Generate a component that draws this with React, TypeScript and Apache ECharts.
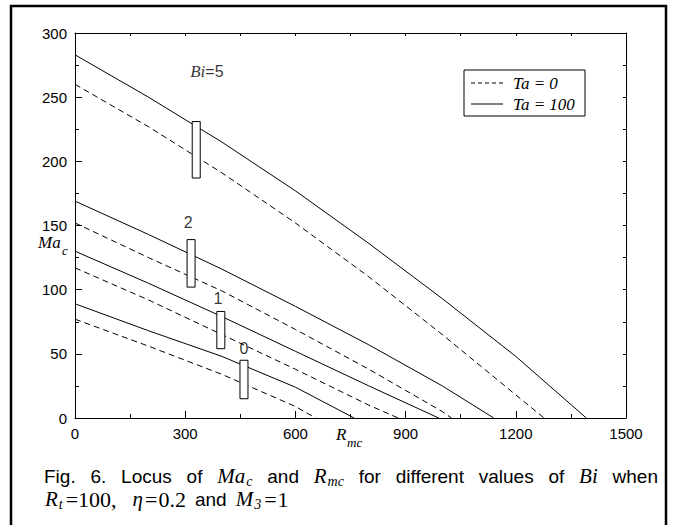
import React, { useEffect, useRef } from "react";
import * as echarts from "echarts";

// ---- data ----
const bi5Solid = [[0, 283], [200, 250], [400, 215], [600, 177], [800, 136], [1000, 93], [1200, 48], [1392, 0]];
const bi5Dashed = [[0, 260], [200, 227], [400, 191], [600, 152], [800, 110], [1000, 65], [1200, 18], [1277, 0]];
const bi2Solid = [[0, 169], [200, 143], [400, 116], [600, 87], [800, 57], [1000, 25], [1140, 0]];
const bi2Dashed = [[0, 152], [200, 125], [400, 99], [600, 69], [800, 38], [1000, 5], [1025, 0]];
const bi1Solid = [[0, 130], [200, 105], [400, 79], [600, 52], [800, 25], [990, 0]];
const bi1Dashed = [[0, 117], [200, 92], [400, 65], [600, 38], [800, 10], [880, 0]];
const bi0Solid = [[0, 89], [200, 68], [400, 48], [600, 24], [760, 0]];
const bi0Dashed = [[0, 77], [200, 56], [400, 34], [600, 9], [655, 0]];

// markers (vertical boxes) straddling each pair
const boxR = [330, 316, 397, 460];
const boxLow = [187, 102, 54, 15];
const boxHigh = [231, 139, 83, 45];

// curve labels
const labelNames = ["Bi=5", "2", "1", "0"];
const labelR = [359, 308, 389, 460];
const labelY = [270, 152, 93.5, 54];

const xMin = 0, xMax = 1500, xStep = 300;
const yMin = 0, yMax = 300, yStep = 50;

const SANS = '"Liberation Sans", Arial, sans-serif';
const SERIF = '"Liberation Serif", "Times New Roman", serif';

type Part = { t: string; kind: "sans" | "math" | "sub" | "rm" };

const line1: Part[][] = [
  [{ t: "Fig.", kind: "sans" }],
  [{ t: "6.", kind: "sans" }],
  [{ t: "Locus", kind: "sans" }],
  [{ t: "of", kind: "sans" }],
  [{ t: "Ma", kind: "math" }, { t: "c", kind: "sub" }],
  [{ t: "and", kind: "sans" }],
  [{ t: "R", kind: "math" }, { t: "mc", kind: "sub" }],
  [{ t: "for", kind: "sans" }],
  [{ t: "different", kind: "sans" }],
  [{ t: "values", kind: "sans" }],
  [{ t: "of", kind: "sans" }],
  [{ t: "Bi", kind: "math" }],
  [{ t: "when", kind: "sans" }],
];

// line 2: parts with the gap placed before each part
const line2: [Part, number][] = [
  [{ t: "R", kind: "math" }, 0],
  [{ t: "t", kind: "sub" }, 0],
  [{ t: "=100,", kind: "rm" }, 3],
  [{ t: "η", kind: "math" }, 16],
  [{ t: "=", kind: "rm" }, 2],
  [{ t: "0.2", kind: "rm" }, 1],
  [{ t: "and", kind: "sans" }, 9],
  [{ t: "M", kind: "math" }, 9],
  [{ t: "3", kind: "sub" }, 0],
  [{ t: "=", kind: "rm" }, 3],
  [{ t: "1", kind: "rm" }, 1],
];

function fontOf(kind: Part["kind"]) {
  if (kind === "sans") return { fontFamily: SANS, fontSize: 19, fontStyle: "normal" };
  if (kind === "math") return { fontFamily: SERIF, fontSize: 21, fontStyle: "italic" };
  if (kind === "sub") return { fontFamily: SERIF, fontSize: 14, fontStyle: "italic" };
  return { fontFamily: SERIF, fontSize: 22, fontStyle: "normal" };
}

let ctx: CanvasRenderingContext2D | null = null;
function measure(p: Part) {
  if (!ctx) ctx = document.createElement("canvas").getContext("2d");
  const f = fontOf(p.kind);
  ctx!.font = `${f.fontStyle} ${f.fontSize}px ${f.fontFamily}`;
  return ctx!.measureText(p.t).width;
}

function partEl(p: Part, x: number, y: number) {
  const f = fontOf(p.kind);
  return {
    type: "text",
    x,
    y: p.kind === "sub" ? y + 5 : y,
    style: { text: p.t, fill: "#000", align: "left", verticalAlign: "middle", ...f },
  };
}

function buildCaption() {
  const els: any[] = [];
  const X0 = 44, X1 = 658, Y1 = 476;
  const widths = line1.map((w) => w.reduce((s, p) => s + measure(p) + (p.kind === "sub" ? 1 : 0), 0));
  const total = widths.reduce((a, b) => a + b, 0);
  const gap = (X1 - X0 - total) / (line1.length - 1);
  let x = X0;
  line1.forEach((word, i) => {
    let xx = x;
    word.forEach((p) => {
      if (p.kind === "sub") xx += 1;
      els.push(partEl(p, xx, Y1));
      xx += measure(p);
    });
    x += widths[i] + gap;
  });
  const Y2 = 499;
  let x2 = 45;
  line2.forEach(([p, g]) => {
    x2 += g + (p.kind === "sub" ? 1 : 0);
    els.push(partEl(p, x2, Y2));
    x2 += measure(p);
  });
  return els;
}

function lineSeries(data: number[][], dashed: boolean) {
  return {
    type: "line",
    data,
    showSymbol: false,
    symbol: "none",
    smooth: false,
    z: 2,
    silent: true,
    lineStyle: { color: "#000", width: 1, type: dashed ? [6, 4] : "solid" },
  };
}

export default function App() {
  const ref = useRef<HTMLDivElement>(null);
  useEffect(() => {
    if (!ref.current) return;
    const chart = echarts.init(ref.current, null, { renderer: "svg" });
    const axisLabel = { color: "#000", fontFamily: SANS, fontSize: 15, formatter: (v: number) => String(v) };
    const option: any = {
      animation: false,
      backgroundColor: "#fff",
      grid: { left: 75, top: 33, right: 47, bottom: 107, containLabel: false },
      xAxis: [
        {
          type: "value", min: xMin, max: xMax, interval: xStep, position: "bottom",
          axisLine: { show: true, onZero: false, lineStyle: { color: "#000", width: 1 } },
          axisTick: { show: true, inside: true, length: 7, lineStyle: { color: "#000" } },
          minorTick: { show: true, splitNumber: 2, length: 4, lineStyle: { color: "#000" } },
          splitLine: { show: false },
          axisLabel: { ...axisLabel, margin: 8 },
        },
        {
          type: "value", min: xMin, max: xMax, interval: 150, position: "top",
          axisLine: { show: true, onZero: false, lineStyle: { color: "#000", width: 1 } },
          axisTick: { show: true, inside: true, length: 3, lineStyle: { color: "#000" } },
          splitLine: { show: false },
          axisLabel: { show: false },
        },
      ],
      yAxis: [
        {
          type: "value", min: yMin, max: yMax, interval: yStep, position: "left",
          axisLine: { show: true, onZero: false, lineStyle: { color: "#000", width: 1 } },
          axisTick: { show: true, inside: true, length: 7, lineStyle: { color: "#000" } },
          minorTick: { show: true, splitNumber: 2, length: 4, lineStyle: { color: "#000" } },
          splitLine: { show: false },
          axisLabel: { ...axisLabel, margin: 8 },
        },
        {
          type: "value", min: yMin, max: yMax, interval: 25, position: "right",
          axisLine: { show: true, onZero: false, lineStyle: { color: "#000", width: 1 } },
          axisTick: { show: true, inside: true, length: 3, lineStyle: { color: "#000" } },
          splitLine: { show: false },
          axisLabel: { show: false },
        },
      ],
      series: [
        lineSeries(bi5Solid, false),
        lineSeries(bi5Dashed, true),
        lineSeries(bi2Solid, false),
        lineSeries(bi2Dashed, true),
        lineSeries(bi1Solid, false),
        lineSeries(bi1Dashed, true),
        lineSeries(bi0Solid, false),
        lineSeries(bi0Dashed, true),
        {
          type: "custom",
          z: 5,
          silent: true,
          data: boxR.map((r, i) => [r, boxLow[i], boxHigh[i]]),
          renderItem: (_p: any, api: any) => {
            const top = api.coord([api.value(0), api.value(2)]);
            const bot = api.coord([api.value(0), api.value(1)]);
            return {
              type: "rect",
              shape: { x: top[0] - 4, y: top[1], width: 8, height: bot[1] - top[1] },
              style: { fill: "#fff", stroke: "#000", lineWidth: 1 },
            };
          },
        },
        {
          type: "scatter",
          z: 6,
          silent: true,
          symbolSize: 1,
          itemStyle: { color: "rgba(0,0,0,0)" },
          data: labelNames.map((n, i) => ({ name: n, value: [labelR[i], labelY[i]] })),
          label: {
            show: true,
            position: "inside",
            formatter: (p: any) => (p.name === "Bi=5" ? "{i|Bi}{n|=5}" : "{n|" + p.name + "}"),
            rich: {
              i: { fontFamily: SERIF, fontStyle: "italic", fontSize: 17, color: "#000" },
              n: { fontFamily: SANS, fontSize: 16, color: "#000" },
            },
          },
        },
      ],
      graphic: [
        {
          type: "rect", z: 0, silent: true,
          shape: { x: 11, y: 6, width: 655, height: 540 },
          style: { fill: "none", stroke: "#000", lineWidth: 2.5 },
        },
        {
          type: "rect", z: 10,
          shape: { x: 464, y: 70, width: 121, height: 46 },
          style: { fill: "#fff", stroke: "#000", lineWidth: 1 },
        },
        {
          type: "line", z: 11,
          shape: { x1: 471, y1: 83, x2: 503, y2: 83 },
          style: { stroke: "#000", lineWidth: 1, lineDash: [4, 3] },
        },
        {
          type: "line", z: 11,
          shape: { x1: 471, y1: 104, x2: 503, y2: 104 },
          style: { stroke: "#000", lineWidth: 1 },
        },
        {
          type: "text", z: 11, x: 513, y: 83,
          style: { text: "Ta = 0", fill: "#000", fontFamily: SERIF, fontStyle: "italic", fontSize: 17, verticalAlign: "middle" },
        },
        {
          type: "text", z: 11, x: 513, y: 104,
          style: { text: "Ta = 100", fill: "#000", fontFamily: SERIF, fontStyle: "italic", fontSize: 17, verticalAlign: "middle" },
        },
        {
          type: "text", x: 38, y: 242,
          style: { text: "Ma", fill: "#000", fontFamily: SERIF, fontStyle: "italic", fontSize: 17, verticalAlign: "middle" },
        },
        {
          type: "text", x: 62, y: 250,
          style: { text: "c", fill: "#000", fontFamily: SERIF, fontStyle: "italic", fontSize: 13, verticalAlign: "middle" },
        },
        {
          type: "text", x: 336, y: 434,
          style: { text: "R", fill: "#000", fontFamily: SERIF, fontStyle: "italic", fontSize: 17, verticalAlign: "middle" },
        },
        {
          type: "text", x: 347, y: 442,
          style: { text: "mc", fill: "#000", fontFamily: SERIF, fontStyle: "italic", fontSize: 13, verticalAlign: "middle" },
        },
        ...buildCaption(),
      ],
    };
    chart.setOption(option);
    return () => chart.dispose();
  }, []);
  return (
    <div
      ref={ref}
      style={{ position: "fixed", left: 0, top: 0, width: 673, height: 525, background: "#fff" }}
    />
  );
}
